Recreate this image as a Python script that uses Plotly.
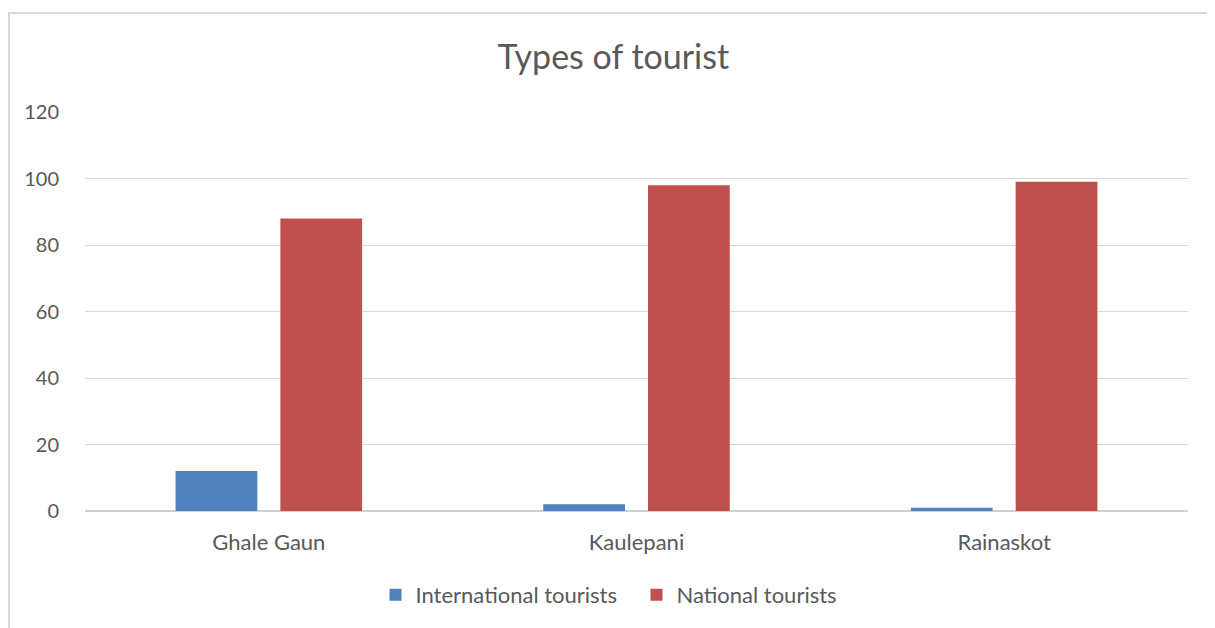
import plotly.graph_objects as go

categories = ["Ghale Gaun", "Kaulepani", "Rainaskot"]
international = [12, 2, 1]
national = [88, 98, 99]
series_names = ["International tourists", "National tourists"]
y_ticks = [0, 20, 40, 60, 80, 100, 120]

# page body has an 8px margin, so the figure is drawn from (8, 8)
OFF = 8
W, H = 1215 - OFF, 628 - OFF
L, R, T, B = 85 - OFF, 27, 112 - OFF, 117
pw, ph = W - L - R, H - T - B

def px_x(x):
    return (x - OFF - L) / pw

def px_y(y):
    return 1 - (y - OFF - T) / ph

font = "Lato"
grey = "#595959"

fig = go.Figure()
fig.add_trace(go.Bar(x=categories, y=international, name=series_names[0],
                     marker=dict(color="#4F81BD", line=dict(width=0))))
fig.add_trace(go.Bar(x=categories, y=national, name=series_names[1],
                     marker=dict(color="#C0504D", line=dict(width=0))))

fig.update_layout(
    width=W, height=H,
    margin=dict(l=L, r=R, t=T, b=B),
    paper_bgcolor="white", plot_bgcolor="white",
    barmode="group", bargap=0.43, bargroupgap=0.22,
    title=dict(text="Types of tourist", x=0.5015, xanchor="center", y=1 - (57 - OFF) / H, yanchor="middle",
               font=dict(family=font, size=34, color=grey)),
    font=dict(family=font, color=grey),
    legend=dict(orientation="h", x=0.5, xanchor="center", y=px_y(595), yanchor="middle",
                font=dict(family=font, size=22, color=grey), itemwidth=30, traceorder="normal",
                entrywidth=216),
    shapes=[dict(type="rect", xref="paper", yref="paper",
                 x0=px_x(9), x1=px_x(1225), y0=px_y(640), y1=px_y(13),
                 line=dict(color="#d9d9d9", width=2), fillcolor="rgba(0,0,0,0)", layer="below")],
)
fig.update_xaxes(showgrid=False, showline=False, ticks="", tickfont=dict(size=22, color=grey),
                 ticklabelstandoff=16)
fig.update_yaxes(range=[0, 120], tickvals=y_ticks, showgrid=True, gridcolor="#d9d9d9", gridwidth=1,
                 zeroline=True, zerolinecolor="#d0d0d0", zerolinewidth=1.5, showline=False,
                 ticks="", tickfont=dict(size=20, color=grey), ticklabelstandoff=25)

fig.write_html("out.html")
